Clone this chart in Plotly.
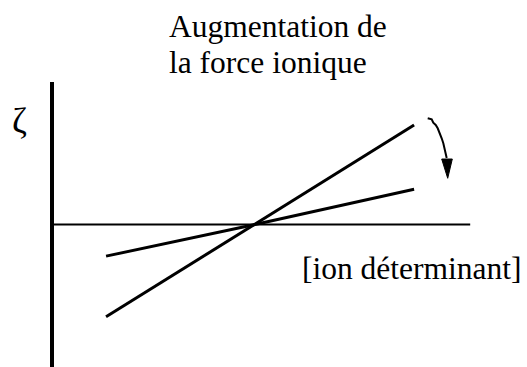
import plotly.graph_objects as go

# schematic: zeta potential vs [potential-determining ion], two ionic strengths
conc = [1.06, 3.98, 7.10]
zeta_low_ionic = [-1.81, 0.0, 1.95]
zeta_high_ionic = [-0.62, 0.0, 0.69]

# axes of the sketch
x_axis_x = [0, 8.2]
x_axis_y = [0, 0]
y_axis_x = [0, 0]
y_axis_y = [-2.9, 2.794]

# wavy arrow (low -> high ionic strength)
arrow_x = [7.367, 7.445, 7.476, 7.524, 7.563, 7.608, 7.641, 7.673, 7.706, 7.739]
arrow_y = [2.082, 2.063, 1.996, 1.951, 1.886, 1.788, 1.690, 1.592, 1.461, 1.304]
head_x = [7.641, 7.849, 7.759, 7.641]
head_y = [1.284, 1.284, 0.906, 1.284]

fig = go.Figure()
fig.add_trace(go.Scatter(x=x_axis_x, y=x_axis_y, mode="lines",
                         line=dict(color="black", width=2)))
fig.add_trace(go.Scatter(x=y_axis_x, y=y_axis_y, mode="lines",
                         line=dict(color="black", width=4)))
fig.add_trace(go.Scatter(x=conc, y=zeta_low_ionic, mode="lines",
                         line=dict(color="black", width=3)))
fig.add_trace(go.Scatter(x=conc, y=zeta_high_ionic, mode="lines",
                         line=dict(color="black", width=3)))
fig.add_trace(go.Scatter(x=arrow_x, y=arrow_y, mode="lines",
                         line=dict(color="black", width=2)))
fig.add_trace(go.Scatter(x=head_x, y=head_y, mode="lines", fill="toself",
                         fillcolor="black", line=dict(color="black", width=1)))

serif = "Liberation Serif"
# two separate lines: tighter line spacing than plotly's <br>
title_lines = ["Augmentation de", "la force ionique"]
for txt, ymid in zip(title_lines, [26, 62.5]):
    fig.add_annotation(x=167 / 527, y=1 - ymid / 367, xref="paper", yref="paper",
                       xanchor="left", yanchor="middle", showarrow=False,
                       text=txt, font=dict(family=serif, size=31.5, color="black"))
fig.add_annotation(x=524 / 527, y=1 - 268 / 367, xref="paper", yref="paper",
                   xanchor="right", yanchor="middle", showarrow=False,
                   text="[ion déterminant]",
                   font=dict(family=serif, size=31.5, color="black"))
fig.add_annotation(x=19 / 527, y=1 - 121 / 367, xref="paper", yref="paper",
                   xanchor="center", yanchor="middle", showarrow=False,
                   text="ζ",
                   font=dict(family=serif, size=36, color="black"))

fig.update_layout(width=527, height=367, margin=dict(l=0, r=0, t=0, b=0),
                  paper_bgcolor="white", plot_bgcolor="white", showlegend=False)
fig.update_xaxes(range=[-52 / 51, 475 / 51], visible=False, fixedrange=True)
fig.update_yaxes(range=[-142.5 / 51, 224.5 / 51], visible=False, fixedrange=True)

fig.write_html("out.html", config={"displayModeBar": False},
               post_script="document.body.style.margin='0';")
